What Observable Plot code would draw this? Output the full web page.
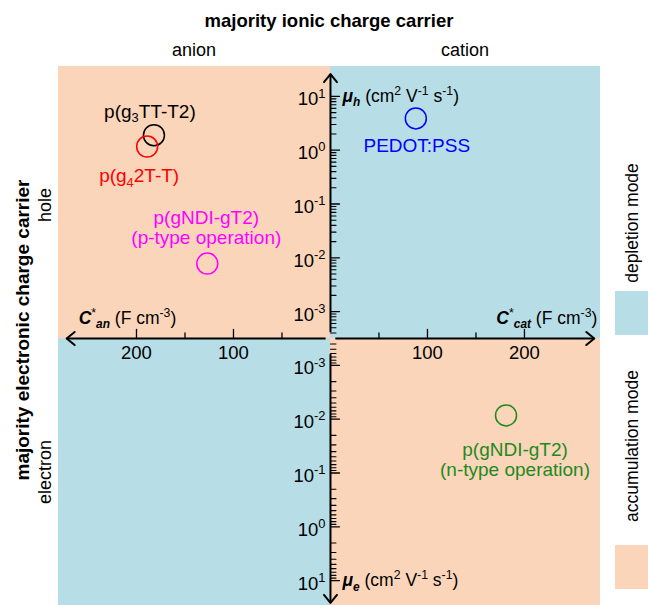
<!DOCTYPE html>
<html><head><meta charset="utf-8">
<script src="https://cdn.jsdelivr.net/npm/d3@7"></script>
<script src="https://cdn.jsdelivr.net/npm/@observablehq/plot@0.6"></script>
<style>
body{margin:0;background:#fff;font-family:"Liberation Sans",Arial,sans-serif;}
#wrap{position:relative;width:648px;height:605px;overflow:hidden;}
#wrap svg{position:absolute;left:0;top:0;}
.lbl{position:absolute;white-space:nowrap;color:#000;transform:translate(-50%,-50%);line-height:1;}
.rot{transform:translate(-50%,-50%) rotate(-90deg);}
.sw{position:absolute;width:33px;height:44px;}
</style></head><body><div id="wrap"></div>
<script>
// ---------- data ----------
const materials = ["PEDOT:PSS", "p(g_{3}TT-T2)", "p(g_{4}2T-T)", "p(gNDI-gT2)\n(p-type operation)", "p(gNDI-gT2)\n(n-type operation)"];
const ionicCarrier = ["cation", "anion", "anion", "anion", "cation"];
const electronicCarrier = ["hole", "hole", "hole", "hole", "electron"];
const volCapacitance = [88, 182, 189, 127, 181];          // C* (F cm^-3)
const mobility = [3.9, 1.9, 1.17, 0.0078, 0.0085];         // mu (cm^2 V^-1 s^-1)
const materialColors = ["#0000ff", "#000000", "#ff0000", "#ff00ff", "#1e8a1e"];

const quadIonic = ["anion", "cation", "anion", "cation"];
const quadElectronic = ["hole", "hole", "electron", "electron"];
const quadMode = ["accumulation", "depletion", "depletion", "accumulation"];
const modeNames = ["depletion mode", "accumulation mode"];
const modeColors = {depletion: "#b7dde7", accumulation: "#fad5ba"};

const capTicksMajor = [100, 200];
const capTicksMinor = [50, 150];
const mobilityTicksMajor = [1e-3, 1e-2, 1e-1, 1, 10];

// ---------- layout ----------
const muOrigin = Math.pow(10, -3.5);   // mobility at axes crossing
const xDomain = [-280.4, 278.4];
const yDomain = [-4.963, 5.056];       // decades from origin
const capReach = 272, muReach = 26, capGap = 5, muGap = 1.3;
const labelOffsets = [[1, 27], [-4, -24], [-8, 29], [-1, -36], [9, 44]];

const sx = (ion, c) => ion === "anion" ? -c : c;
const sy = (car, mu) => (car === "hole" ? 1 : -1) * Math.log10(mu / muOrigin);

const pts = materials.map((m, i) => ({
  name: m, ion: ionicCarrier[i], car: electronicCarrier[i],
  c: volCapacitance[i], mu: mobility[i], color: materialColors[i]
}));
const quads = quadIonic.map((ion, i) => ({ion, car: quadElectronic[i], mode: quadMode[i]}));

const minorMu = [];
for (let e = -4; e <= 0; e++) for (let k = 2; k <= 9; k++) {
  const v = k * Math.pow(10, e);
  if (v > muOrigin && v < 10) minorMu.push(v);
}
const cars = ["hole", "electron"];
const majY = cars.flatMap(car => mobilityTicksMajor.map(v => ({car, v})));
const minY = cars.flatMap(car => minorMu.map(v => ({car, v})));
const ions = ["anion", "cation"];
const majX = ions.flatMap(ion => capTicksMajor.map(v => ({ion, v})));
const minX = ions.flatMap(ion => capTicksMinor.map(v => ({ion, v})));

const axisSegs = [
  {x1: sx("anion", capGap), y1: 0, x2: sx("anion", capReach), y2: 0, rot: -90},
  {x1: sx("cation", capGap), y1: 0, x2: sx("cation", capReach), y2: 0, rot: 90},
  {x1: 0, y1: sy("hole", muOrigin * muGap), x2: 0, y2: sy("hole", muReach), rot: 0},
  {x1: 0, y1: sy("electron", muOrigin * muGap * 1.5), x2: 0, y2: sy("electron", muReach), rot: 180}
];

const lineShape = {draw(ctx, l) { ctx.moveTo(0, 0); ctx.lineTo(0, -l); }};
const chevron = {draw(ctx) { ctx.moveTo(-6.5, 8); ctx.lineTo(0, 0); ctx.lineTo(6.5, 8); }};

const axisLabels = [
  {x: 0, y: sy("hole", 10), t: "~{μ}~_{h} (cm^{2} V^{-1} s^{-1})", anchor: "start", dx: 12, dy: 0},
  {x: 0, y: sy("electron", 10), t: "~{μ}~_{e} (cm^{2} V^{-1} s^{-1})", anchor: "start", dx: 12, dy: 0},
  {x: sx("anion", capReach), y: 0, t: "~{C}^{*}~_{an} (F cm^{-3})", anchor: "start", dx: 12, dy: -20},
  {x: sx("cation", capReach), y: 0, t: "~{C}^{*}~_{cat} (F cm^{-3})", anchor: "end", dx: 3, dy: -20}
];

const chart = Plot.plot({
  width: 648, height: 605,
  marginLeft: 58, marginRight: 48, marginTop: 66, marginBottom: 0,
  x: {domain: xDomain, axis: null},
  y: {domain: yDomain, axis: null},
  color: {type: "identity"},
  style: {fontFamily: "'Liberation Sans', Arial, sans-serif", background: "transparent", overflow: "visible"},
  marks: [
    Plot.rect(quads, {
      x1: d => d.ion === "anion" ? xDomain[0] : 0, x2: d => d.ion === "anion" ? 0 : xDomain[1],
      y1: d => d.car === "hole" ? 0 : yDomain[0], y2: d => d.car === "hole" ? yDomain[1] : 0,
      fill: d => modeColors[d.mode], inset: 0
    }),
    Plot.link(axisSegs, {x1: "x1", y1: "y1", x2: "x2", y2: "y2", stroke: "#000", strokeWidth: 2}),
    Plot.vector(axisSegs, {x: "x2", y: "y2", rotate: "rot", anchor: "start", shape: chevron, stroke: "#000", strokeWidth: 2}),
    Plot.vector(majY, {x: () => 0, y: d => sy(d.car, d.v), length: 9, rotate: 90, anchor: "start", shape: lineShape, stroke: "#000", strokeWidth: 1.3}),
    Plot.vector(minY, {x: () => 0, y: d => sy(d.car, d.v), length: 5.5, rotate: 90, anchor: "start", shape: lineShape, stroke: "#000", strokeWidth: 1.1}),
    Plot.vector(majX, {x: d => sx(d.ion, d.v), y: () => 0, length: 9, rotate: 0, anchor: "start", shape: lineShape, stroke: "#000", strokeWidth: 1.3}),
    Plot.vector(minX, {x: d => sx(d.ion, d.v), y: () => 0, length: 5.5, rotate: 0, anchor: "start", shape: lineShape, stroke: "#000", strokeWidth: 1.3}),
    Plot.text(majX, {x: d => sx(d.ion, d.v), y: () => 0, text: d => String(d.v), dy: 15, fontSize: 18.5, fill: "#000"}),
    Plot.text(majY, {x: () => 0, y: d => sy(d.car, d.v), text: d => `10^{${Math.round(Math.log10(d.v))}}`, textAnchor: "end", dx: -5, dy: 3, fontSize: 18.5, fill: "#000"}),
    ...axisLabels.map(a => Plot.text([a], {x: "x", y: "y", text: "t", textAnchor: a.anchor, dx: a.dx, dy: a.dy, fontSize: 17.5, fill: "#000"})),
    Plot.dot(pts, {x: d => sx(d.ion, d.c), y: d => sy(d.car, d.mu), r: 10.5, stroke: "color", strokeWidth: 1.5, fill: "none"}),
    ...pts.map((p, i) => Plot.text([p], {
      x: d => sx(d.ion, d.c), y: d => sy(d.car, d.mu), text: "name", fill: "color",
      dx: labelOffsets[i][0], dy: labelOffsets[i][1], fontSize: 19, lineHeight: 1.07
    }))
  ]
});

const wrap = document.getElementById("wrap");
wrap.appendChild(chart);

// rich text: ^{} sup, _{} sub, ~{} bold italic, ~_{} bold italic sub
const NS = "http://www.w3.org/2000/svg";
function rich(el) {
  const s = el.textContent;
  if (!/(\^|_|~)\{/.test(s)) return;
  const fs = parseFloat(getComputedStyle(el).fontSize) || 16;
  el.textContent = "";
  const re = /(~_|\^|_|~)\{([^}]*)\}/g;
  let last = 0, m, cur = 0;
  const add = (txt, kind) => {
    if (!txt) return;
    const t = document.createElementNS(NS, "tspan");
    t.textContent = txt;
    let off = 0;
    if (kind === "^") { off = -0.42 * fs; t.setAttribute("font-size", (0.7 * fs) + "px"); }
    if (kind === "_" || kind === "~_") { off = 0.25 * fs; t.setAttribute("font-size", (0.68 * fs) + "px"); }
    if (kind === "~" || kind === "~_") { t.setAttribute("font-weight", "bold"); t.setAttribute("font-style", "italic"); }
    if (off !== cur) t.setAttribute("dy", (off - cur) + "px");
    cur = off;
    el.appendChild(t);
  };
  while ((m = re.exec(s))) {
    add(s.slice(last, m.index), "");
    add(m[2], m[1]);
    last = re.lastIndex;
  }
  add(s.slice(last), "");
}
chart.querySelectorAll("text").forEach(rich);

// surrounding labels and legend
function lbl(txt, x, y, size, opts = {}) {
  const d = document.createElement("div");
  d.className = "lbl" + (opts.rot ? " rot" : "");
  d.textContent = txt;
  d.style.left = x + "px"; d.style.top = y + "px"; d.style.fontSize = size + "px";
  if (opts.bold) d.style.fontWeight = "bold";
  wrap.appendChild(d);
}
lbl("majority ionic charge carrier", 329, 21, 18.5, {bold: true});
lbl(ions[0], 194, 50, 18);
lbl(ions[1], 465, 50, 18);
lbl("majority electronic charge carrier", 22, 330, 19, {bold: true, rot: true});
lbl(cars[0], 45, 205, 18, {rot: true});
lbl(cars[1], 45, 472, 18, {rot: true});
const legendPos = [[223, 291], [446, 545]];
modeNames.forEach((name, i) => {
  lbl(name, 633, legendPos[i][0], 17.5, {rot: true});
  const sw = document.createElement("div");
  sw.className = "sw";
  sw.style.left = "615px"; sw.style.top = legendPos[i][1] + "px";
  sw.style.background = modeColors[name.split(" ")[0]];
  wrap.appendChild(sw);
});
</script></body></html>
